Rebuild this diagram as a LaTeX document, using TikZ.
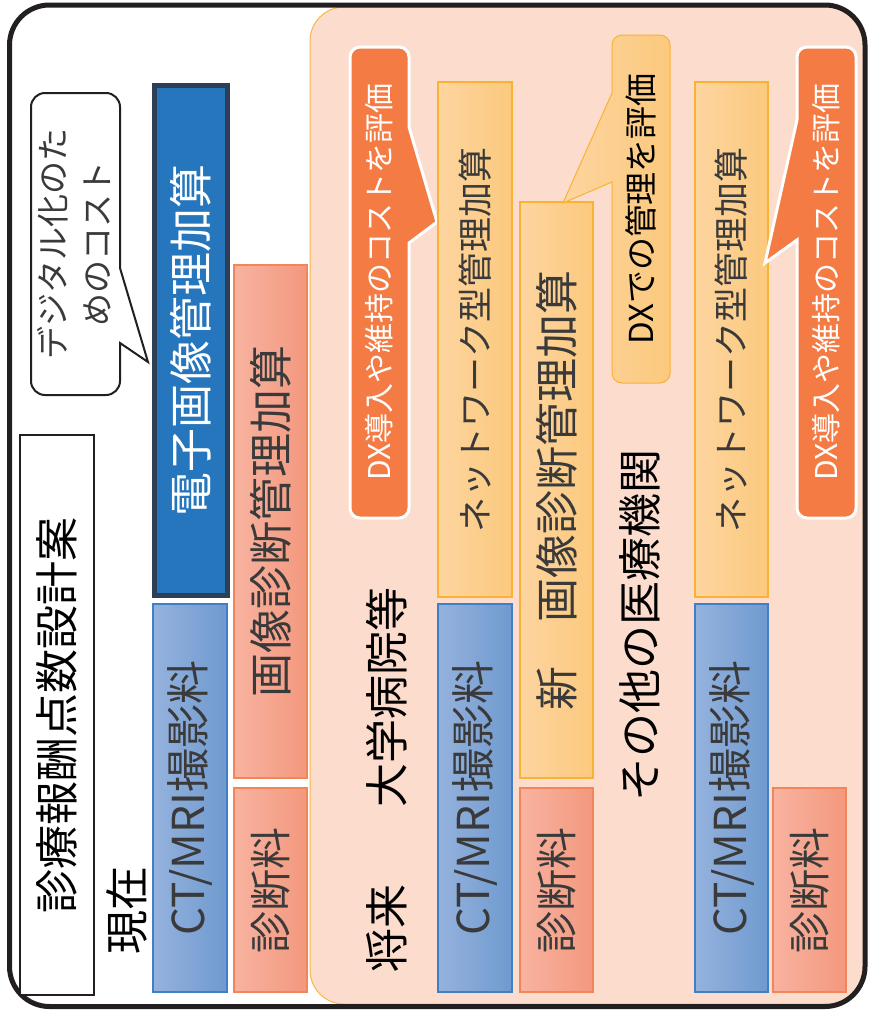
\documentclass[tikz,border=0pt]{standalone}
\usepackage{fontspec}
\usepackage{graphicx}
\setmainfont{Noto Sans CJK JP}
\definecolor{frame}{HTML}{231F20}
\definecolor{peach}{HTML}{FCDCCC}
\definecolor{peachline}{HTML}{F9B64B}
\definecolor{dxorange}{HTML}{F47B44}
\definecolor{darkblue}{HTML}{2676BE}
\definecolor{navyline}{HTML}{2E3F55}
\definecolor{blueL}{HTML}{95B2DD}
\definecolor{blueR}{HTML}{6F9ACF}
\definecolor{blueline}{HTML}{3E7FC6}
\definecolor{salL}{HTML}{F8B3A0}
\definecolor{salR}{HTML}{F3987E}
\definecolor{salline}{HTML}{F28559}
\definecolor{orL}{HTML}{FDD5A0}
\definecolor{orR}{HTML}{FCC97D}
\definecolor{orline}{HTML}{F9B233}
\definecolor{txt}{HTML}{3A3A3A}
\tikzset{
  fsz/.style={font=\fontsize{#1}{#1}\selectfont},
  box/.style={draw, line width=1.2pt, inner sep=0pt, text=txt},
  salbox/.style={box, draw=salline, left color=salL, right color=salR},
  bluebox/.style={box, draw=blueline, left color=blueL, right color=blueR},
  orbox/.style={box, draw=orline, left color=orL, right color=orR},
  headlbl/.style={rotate=90, inner sep=0pt, text=black, font=\fontsize{44}{44}\selectfont},
}
\begin{document}
\begin{tikzpicture}[x=1pt,y=-1pt]
\useasboundingbox (0,0) rectangle (869,1012);
% peach future region
\begin{scope}
\clip[rounded corners=40] (9.5,5) rectangle (865,1006.5);
\draw[peachline, line width=1pt, fill=peach, rounded corners=34] (900,7) -- (310,7) -- (310,1004) -- (900,1004);
\end{scope}
\draw[frame, line width=5pt, rounded corners=40] (9.5,5) rectangle (865,1006.5);

% title
\node[draw=frame, line width=2pt, fill=white, inner sep=0pt, minimum width=74, minimum height=560, text=black, fsz=44] (title) at (57,715) {\rotatebox{90}{診療報酬点数設計案}};

% digital bubble
\draw[frame, line width=2pt, fill=white] (120,343) -- (148,362) -- (120,268) -- (120,250) [rounded corners=14] -- (120,93) -- (31,93) -- (31,395) -- (120,395) -- (120,360) [sharp corners] -- cycle;
\node[rotate=90, align=center, inner sep=0pt, text=txt, font=\fontsize{33}{44}\selectfont] (dig) at (74,244) {デジタル化のた\\めのコスト};

% current
\node[headlbl] (now) at (127,910) {現在};
\node[box, draw=navyline, line width=5pt, fill=darkblue, text=white, minimum width=73, minimum height=510, fsz=44] (eimg) at (191,340.5) {\rotatebox{90}{電子画像管理加算}};
\node[salbox, minimum width=73, minimum height=513, fsz=44] (img1) at (270.5,521.5) {\rotatebox{90}{画像診断管理加算}};
\node[bluebox, minimum width=74, minimum height=388, fsz=44] (ct1) at (190,798) {\rotatebox{90}{CT/MRI撮影料}};
\node[salbox, minimum width=73, minimum height=204, fsz=42] (dg1) at (270.5,890) {\rotatebox{90}{診断料}};

% future: university hospitals
\node[headlbl] (fut) at (387,928) {将来};
\node[headlbl] (univ) at (387,697) {大学病院等};
\draw[white, line width=3pt, fill=dxorange] (409,243) -- (437,222) -- (409,127) -- (409,110) [rounded corners=10] -- (409,47) -- (350,47) -- (350,518) -- (409,518) -- (409,260) [sharp corners] -- cycle;
\node[rotate=90, inner sep=0pt, text=white, fsz=30] (dx1) at (379,282) {DX導入や維持のコストを評価};
\node[orbox, minimum width=74, minimum height=515, fsz=35] (net1) at (475,339.5) {\rotatebox{90}{ネットワーク型管理加算}};
\node[orbox, minimum width=73, minimum height=576, fsz=44] (new) at (556.5,490) {\rotatebox{90}{新　画像診断管理加算}};
\node[bluebox, minimum width=74, minimum height=388, fsz=44] (ct2) at (475,798) {\rotatebox{90}{CT/MRI撮影料}};
\node[salbox, minimum width=73, minimum height=204, fsz=42] (dg2) at (556.5,890) {\rotatebox{90}{診断料}};

% DX management bubble
\draw[orline, line width=1pt, left color=orL, right color=orR] (612,182) -- (563,203) -- (612,93) -- (612,80) [rounded corners=10] -- (612,35) -- (670,35) -- (670,383) -- (612,383) -- (612,195) [sharp corners] -- cycle;
\node[rotate=90, inner sep=0pt, text=black, fsz=33] (dxm) at (641,209) {DXでの管理を評価};

% other institutions
\node[headlbl] (other) at (640,625) {その他の医療機関};
\node[orbox, minimum width=73, minimum height=515, fsz=35] (net2) at (731.5,339.5) {\rotatebox{90}{ネットワーク型管理加算}};
\node[bluebox, minimum width=73, minimum height=388, fsz=44] (ct3) at (731.5,798) {\rotatebox{90}{CT/MRI撮影料}};
\node[salbox, minimum width=73, minimum height=204, fsz=42] (dg3) at (809.5,890) {\rotatebox{90}{診断料}};
\draw[white, line width=3pt, fill=dxorange] (797,240) -- (765,263) -- (797,120) -- (797,100) [rounded corners=10] -- (797,47) -- (856,47) -- (856,518) -- (797,518) -- (797,255) [sharp corners] -- cycle;
\node[rotate=90, inner sep=0pt, text=white, fsz=30] (dx2) at (826,282) {DX導入や維持のコストを評価};
\end{tikzpicture}
\end{document}
